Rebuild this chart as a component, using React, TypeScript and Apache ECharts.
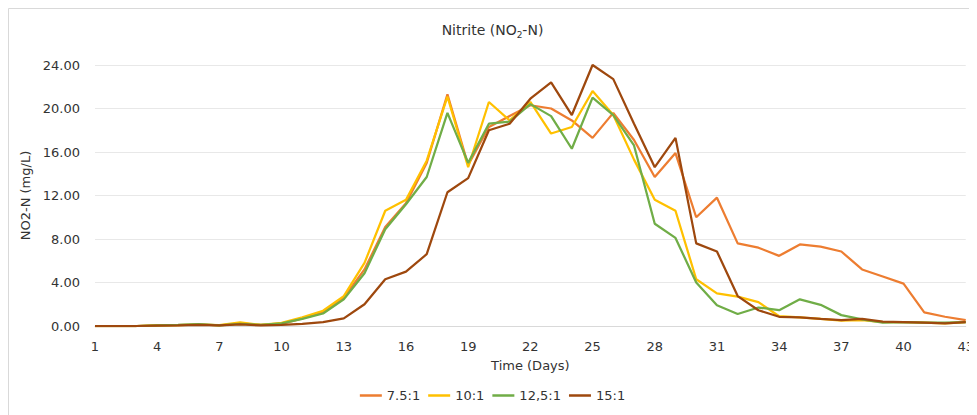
import React, { useEffect, useRef } from "react";
import * as echarts from "echarts";

const days = ["1","2","3","4","5","6","7","8","9","10","11","12","13","14","15","16","17","18","19","20","21","22","23","24","25","26","27","28","29","30","31","32","33","34","35","36","37","38","39","40","41","42","43"];

const seriesNames = ["7.5:1", "10:1", "12,5:1", "15:1"];
const seriesColors = ["#ED7D31", "#FFC000", "#70AD47", "#9E480E"];

const ratio75 = [0,0,0,0.05,0.08,0.15,0.05,0.25,0.1,0.2,0.7,1.3,2.6,5.2,9.1,11.3,15.0,21.3,14.8,18.3,19.3,20.3,20.0,18.9,17.3,19.6,17.1,13.7,15.9,10.0,11.8,7.6,7.2,6.45,7.5,7.3,6.85,5.2,4.55,3.9,1.25,0.85,0.55];
const ratio10 = [0,0,0,0.05,0.08,0.12,0.08,0.34,0.1,0.28,0.8,1.4,2.75,5.8,10.6,11.6,15.2,21.1,14.6,20.6,18.9,20.6,17.7,18.3,21.6,19.4,15.3,11.6,10.6,4.3,3.0,2.7,2.2,0.9,0.8,0.65,0.5,0.55,0.35,0.35,0.3,0.25,0.35];
const ratio125 = [0,0,0,0.05,0.1,0.18,0.05,0.2,0.1,0.25,0.65,1.15,2.45,4.85,8.9,11.2,13.7,19.6,15.0,18.6,18.8,20.4,19.3,16.3,21.0,19.4,16.6,9.4,8.1,4.0,1.9,1.1,1.7,1.45,2.45,1.95,1.0,0.6,0.3,0.35,0.3,0.3,0.35];
const ratio15 = [0,0,0,0.03,0.05,0.1,0.05,0.15,0.05,0.1,0.2,0.35,0.7,2.0,4.3,5.0,6.6,12.3,13.6,18.0,18.6,20.9,22.4,19.4,24.0,22.7,18.6,14.6,17.3,7.6,6.85,2.75,1.45,0.85,0.8,0.65,0.55,0.65,0.4,0.35,0.3,0.25,0.35];

const allSeries = [ratio75, ratio10, ratio125, ratio15];

const FONT = "DejaVu Sans";
const TEXT = "#333333";

export default function App() {
  const ref = useRef<HTMLDivElement>(null);
  useEffect(() => {
    if (!ref.current) return;
    const chart = echarts.init(ref.current, null, { renderer: "svg" });
    chart.setOption({
      animation: false,
      backgroundColor: "#ffffff",
      graphic: [
        {
          type: "rect",
          shape: { x: 0.5, y: 0.5, width: 2000, height: 2000 },
          style: { fill: "none", stroke: "#d9d9d9", lineWidth: 1 },
          silent: true,
        },
      ],
      title: {
        text: "Nitrite (NO{sub|2}-N)",
        left: "center",
        top: 8,
        textStyle: {
          fontFamily: FONT,
          fontSize: 14,
          fontWeight: "normal",
          color: TEXT,
          lineHeight: 18,
          rich: {
            sub: {
              fontFamily: FONT,
              fontSize: 9,
              color: TEXT,
              verticalAlign: "bottom",
              lineHeight: 12,
              padding: [6, 0, 0, 0],
            },
          },
        },
      },
      legend: {
        bottom: 8,
        left: "center",
        icon: "rect",
        itemWidth: 22,
        itemHeight: 2.5,
        itemGap: 8,
        textStyle: { fontFamily: FONT, fontSize: 13, color: TEXT },
        data: seriesNames,
      },
      grid: { left: 87, right: 8, top: 57, bottom: 89, containLabel: false },
      xAxis: {
        type: "category",
        data: days,
        boundaryGap: false,
        name: "Time (Days)",
        nameLocation: "middle",
        nameGap: 33,
        nameTextStyle: { fontFamily: FONT, fontSize: 13, color: TEXT },
        axisLine: { show: true, lineStyle: { color: "#d9d9d9", width: 1 } },
        axisTick: { show: false },
        axisLabel: {
          interval: 2,
          margin: 14,
          fontFamily: FONT,
          fontSize: 13,
          color: TEXT,
        },
        splitLine: { show: false },
      },
      yAxis: {
        type: "value",
        min: 0,
        max: 24,
        interval: 4,
        name: "NO2-N (mg/L)",
        nameLocation: "middle",
        nameGap: 59,
        nameTextStyle: { fontFamily: FONT, fontSize: 13, color: TEXT },
        axisLine: { show: false },
        axisTick: { show: false },
        axisLabel: {
          margin: 15,
          fontFamily: FONT,
          fontSize: 13,
          color: TEXT,
          formatter: (v: number) => v.toFixed(2),
        },
        splitLine: { lineStyle: { color: "#e8e8e8", width: 1 } },
      },
      series: allSeries.map((d, i) => ({
        name: seriesNames[i],
        type: "line",
        data: d,
        symbol: "none",
        color: seriesColors[i],
        lineStyle: { color: seriesColors[i], width: 2.25 },
        itemStyle: { color: seriesColors[i] },
      })),
    });
    return () => chart.dispose();
  }, []);
  return <div ref={ref} style={{ width: 969, height: 407 }} />;
}
